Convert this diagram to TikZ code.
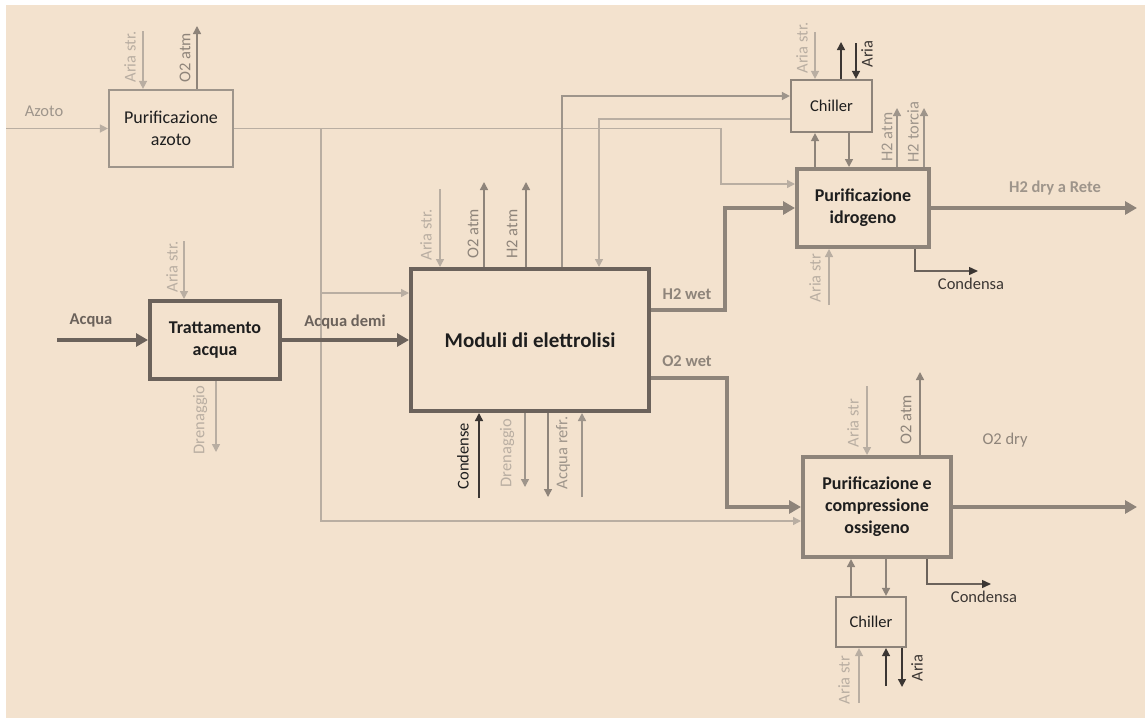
\documentclass[tikz,border=0pt]{standalone}
\usepackage{fontspec}
\setmainfont{Carlito}
\usetikzlibrary{arrows.meta,calc}

\definecolor{paper}{HTML}{F3E2CE}
\definecolor{darkc}{HTML}{6B625B}
\definecolor{midc}{HTML}{8E847A}
\definecolor{softc}{HTML}{9E958B}
\definecolor{lightc}{HTML}{B9AEA2}
\definecolor{inkc}{HTML}{3B3633}
\definecolor{textc}{HTML}{1E1E1E}

\tikzset{
  boxtxt/.style={font=\fontsize{18}{22}\selectfont, text=textc, align=center, inner sep=0pt},
  heavybox/.style={boxtxt, draw=darkc, line width=4pt, font=\fontsize{18}{22}\selectfont\bfseries},
  midbox/.style={boxtxt, draw=midc, line width=4pt, font=\fontsize{18}{22}\selectfont\bfseries},
  thinbox/.style={boxtxt, draw=softc, line width=2.2pt},
  lbl/.style={font=\fontsize{16.5}{19}\selectfont, inner sep=0pt},
  vlbl/.style={lbl, rotate=90},
  thintip/.style={-{Triangle[length=8pt,width=8pt]}},
  thicktip/.style={-{Triangle[length=12pt,width=13pt]}},
  lightarr/.style={thintip, draw=lightc, line width=1.4pt},
  softarr/.style={thintip, draw=softc, line width=1.5pt},
  midarr/.style={thintip, draw=midc, line width=1.5pt},
  inkarr/.style={thintip, draw=inkc, line width=1.5pt},
  condarr/.style={-{Triangle[length=9pt,width=8pt,color=inkc]}, draw=darkc, line width=1.4pt},
  heavyarr/.style={thicktip, draw=darkc, line width=4pt},
  midheavy/.style={thicktip, draw=midc, line width=4pt},
}

\begin{document}
\begin{tikzpicture}[x=1pt,y=-1pt]
% canvas
\fill[white] (0,0) rectangle (1145,718);
\fill[paper] (6,5) rectangle (1145,718);
\useasboundingbox (0,0) rectangle (1145,718);

% process blocks
\node[thinbox, minimum width=124, minimum height=77] (azoto) at (171,128.5) {Purificazione\\azoto};
\node[heavybox, minimum width=130, minimum height=78] (tratt) at (215,340) {Trattamento\\acqua};
\node[heavybox, minimum width=238, minimum height=142, font=\fontsize{21}{25}\selectfont\bfseries] (moduli) at (530,340) {Moduli di elettrolisi};
\node[thinbox, draw=midc, minimum width=81, minimum height=52, font=\fontsize{16.5}{20}\selectfont] (chTop) at (831.5,106) {Chiller};
\node[midbox, minimum width=132, minimum height=78] (idro) at (863,208) {Purificazione\\idrogeno};
\node[midbox, minimum width=148, minimum height=100] (ossi) at (877,507) {Purificazione e\\compressione\\ossigeno};
\node[thinbox, draw=midc, minimum width=70, minimum height=50, font=\fontsize{16.5}{20}\selectfont] (chBot) at (871,622) {Chiller};

% free ends and bends
\coordinate (azIn) at (6,128.5);
\coordinate (azAria) at (143,31);
\coordinate (azO2) at (197,26);
\coordinate (n2turn) at (721,184);
\coordinate (n2low) at (321,521);
\coordinate (n2mod) at (321,293);
\coordinate (acquaIn) at (57,340);
\coordinate (trAria) at (184,241);
\coordinate (trDren) at (216,452);
\coordinate (moAria) at (440,189);
\coordinate (moO2) at (484,182);
\coordinate (moH2) at (526,182);
\coordinate (chFeed) at (562,96);
\coordinate (chRet) at (599,119);
\coordinate (h2a) at (725,310);
\coordinate (o2a) at (727,378);
\coordinate (moCond) at (479,498);
\coordinate (moDren) at (525,487);
\coordinate (moOut) at (548,497);
\coordinate (moRefr) at (582,497);
\coordinate (ctAria) at (815,32);
\coordinate (ctUp) at (841,42);
\coordinate (ctDown) at (856,43);
\coordinate (ciA) at (815,150);
\coordinate (ciB) at (849,150);
\coordinate (idH2atm) at (897,108);
\coordinate (idTorcia) at (924,108);
\coordinate (h2dry) at (1137,208);
\coordinate (idCondTurn) at (915,271);
\coordinate (idCond) at (978,271);
\coordinate (idAria) at (829,305);
\coordinate (osAria) at (867,386);
\coordinate (osO2) at (920,372);
\coordinate (o2dry) at (1137,507);
\coordinate (osCondTurn) at (927,584);
\coordinate (osCond) at (991,584);
\coordinate (coA) at (851,580);
\coordinate (coB) at (886,580);
\coordinate (cbAria) at (859,703);
\coordinate (cbUp) at (886,686);
\coordinate (cbDown) at (902,687);

% nitrogen purification
\draw[lightarr] (azIn) -- (azoto.west);
\draw[lightarr] (azAria) -- (azAria |- azoto.north);
\draw[midarr] (azO2 |- azoto.north) -- (azO2);
\draw[lightarr] (azoto.east) -| (n2turn) -- (n2turn -| idro.west);
\draw[lightarr] (azoto.east -| n2low) -- (n2low) -- (n2low -| ossi.west);
\draw[lightarr] (n2mod) -- (n2mod -| moduli.west);

% water treatment
\draw[heavyarr] (acquaIn) -- (tratt.west);
\draw[heavyarr] (tratt.east) -- (moduli.west);
\draw[lightarr] (trAria) -- (trAria |- tratt.north);
\draw[lightarr] (trDren |- tratt.south) -- (trDren);

% electrolysis modules
\draw[lightarr] (moAria) -- (moAria |- moduli.north);
\draw[midarr] (moO2 |- moduli.north) -- (moO2);
\draw[midarr] (moH2 |- moduli.north) -- (moH2);
\draw[softarr] (chFeed |- moduli.north) -- (chFeed) -- (chFeed -| chTop.west);
\draw[lightarr] (chRet -| chTop.west) -- (chRet) -- (chRet |- moduli.north);
\draw[midheavy] (moduli.east |- h2a) -- (h2a) |- (idro.west);
\draw[midheavy] (moduli.east |- o2a) -- (o2a) |- (ossi.west);
\draw[inkarr] (moCond) -- (moCond |- moduli.south);
\draw[softarr] (moDren |- moduli.south) -- (moDren);
\draw[midarr] (moOut |- moduli.south) -- (moOut);
\draw[softarr] (moRefr) -- (moRefr |- moduli.south);

% hydrogen purification and its chiller
\draw[lightarr] (ctAria) -- (ctAria |- chTop.north);
\draw[inkarr] (ctUp |- chTop.north) -- (ctUp);
\draw[inkarr] (ctDown) -- (ctDown |- chTop.north);
\draw[midarr] (ciA |- idro.north) -- (ciA |- chTop.south);
\draw[midarr] (ciB |- chTop.south) -- (ciB |- idro.north);
\draw[softarr] (idH2atm |- idro.north) -- (idH2atm);
\draw[softarr] (idTorcia |- idro.north) -- (idTorcia);
\draw[midheavy] (idro.east) -- (h2dry);
\draw[condarr] (idCondTurn |- idro.south) -- (idCondTurn) -- (idCond);
\draw[lightarr] (idAria) -- (idAria |- idro.south);

% oxygen purification and its chiller
\draw[lightarr] (osAria) -- (osAria |- ossi.north);
\draw[midarr] (osO2 |- ossi.north) -- (osO2);
\draw[midheavy] (ossi.east) -- (o2dry);
\draw[condarr] (osCondTurn |- ossi.south) -- (osCondTurn) -- (osCond);
\draw[midarr] (coA |- chBot.north) -- (coA |- ossi.south);
\draw[midarr] (coB |- ossi.south) -- (coB |- chBot.north);
\draw[lightarr] (cbAria) -- (cbAria |- chBot.south);
\draw[inkarr] (cbUp) -- (cbUp |- chBot.south);
\draw[inkarr] (cbDown |- chBot.south) -- (cbDown);

% stream labels
\node[lbl, text=softc] (tAzoto) at (44,111) {Azoto};
\node[vlbl, text=lightc] (tAzAria) at (130,57) {Aria str.};
\node[vlbl, text=midc] (tAzO2) at (185,58) {O2 atm};
\node[lbl, text=darkc, font=\fontsize{16.5}{19}\selectfont\bfseries] (tAcqua) at (91,320) {Acqua};
\node[lbl, text=darkc, font=\fontsize{16.5}{19}\selectfont\bfseries] (tDemi) at (345,322) {Acqua demi};
\node[vlbl, text=lightc] (tTrAria) at (172,267) {Aria str.};
\node[vlbl, text=lightc] (tTrDren) at (200,420) {Drenaggio};
\node[vlbl, text=lightc] (tMoAria) at (426,235) {Aria str.};
\node[vlbl, text=midc] (tMoO2) at (473,234) {O2 atm};
\node[vlbl, text=midc] (tMoH2) at (512,234) {H2 atm};
\node[vlbl, text=textc] (tCond) at (463,456) {Condense};
\node[vlbl, text=lightc] (tMoDren) at (507,453) {Drenaggio};
\node[vlbl, text=softc] (tRefr) at (563,453) {Acqua refr.};
\node[lbl, text=midc, font=\fontsize{16.5}{19}\selectfont\bfseries] (tH2wet) at (687,294) {H2 wet};
\node[lbl, text=midc, font=\fontsize{16.5}{19}\selectfont\bfseries] (tO2wet) at (687,361) {O2 wet};
\node[vlbl, text=lightc] (tCtAria) at (802,48) {Aria str.};
\node[vlbl, text=inkc] (tCtAria2) at (867,54) {Aria};
\node[vlbl, text=softc] (tIdH2) at (887,137) {H2 atm};
\node[vlbl, text=softc] (tIdTorcia) at (913,132) {H2 torcia};
\node[lbl, text=softc, font=\fontsize{16.5}{19}\selectfont\bfseries] (tH2dry) at (1055,188) {H2 dry a Rete};
\node[lbl, text=inkc] (tIdCond) at (971,284) {Condensa};
\node[vlbl, text=lightc] (tIdAria) at (815,278) {Aria str};
\node[vlbl, text=lightc] (tOsAria) at (853,423) {Aria str};
\node[vlbl, text=midc] (tOsO2) at (906,420) {O2 atm};
\node[lbl, text=midc] (tO2dry) at (1005,440) {O2 dry};
\node[lbl, text=inkc] (tOsCond) at (984,597) {Condensa};
\node[vlbl, text=lightc] (tCbAria) at (844,680) {Aria str};
\node[vlbl, text=inkc] (tCbAria2) at (917,668) {Aria};
\end{tikzpicture}
\end{document}
